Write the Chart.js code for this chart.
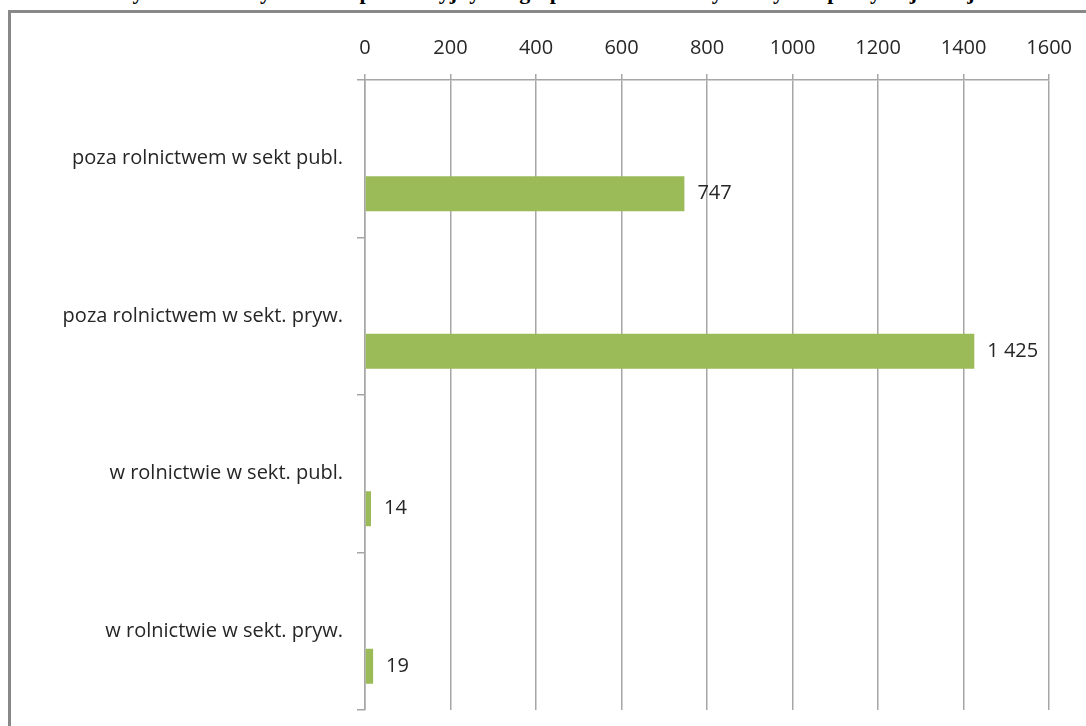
<!DOCTYPE html>
<html>
<head>
<meta charset="utf-8">
<script src="https://cdn.jsdelivr.net/npm/chart.js@4"></script>
<style>
    html, body { margin: 0; padding: 0; background: #fff; overflow: hidden; }
    #title {
        position: absolute; left: 0; top: -19px; width: 1086px; text-align: center;
        font: bold 22px "Liberation Serif", "Times New Roman", serif; line-height: 22px; color: #000;
        white-space: nowrap;
    }
    #frame {
        position: absolute; left: 8px; top: 10px; width: 2000px; height: 2000px;
        border-left: 3px solid #888; border-top: 3px solid #888;
    }
    #wrap { position: absolute; left: 0; top: 0; width: 1086px; height: 726px; }
</style>
</head>
<body>
<div id="title">Wykres 4. Osoby w wieku produkcyjnym z gospodarstw domowych z tytułu pracy najemnej</div>
<div id="frame"></div>
<div id="wrap"><canvas id="chart"></canvas></div>
<script>
// categories, top to bottom
var categories = [
    'poza rolnictwem w sekt publ.',
    'poza rolnictwem w sekt. pryw.',
    'w rolnictwie w sekt. publ.',
    'w rolnictwie w sekt. pryw.'
];
// the two empty series keep the bars in the lower third of each band
var emptySeries1 = [null, null, null, null];
var emptySeries2 = [null, null, null, null];
var values = [747, 1425, 14, 19];
var xTicks = [0, 200, 400, 600, 800, 1000, 1200, 1400, 1600];

var FONT = '"Open Sans", "Noto Sans", sans-serif';

function formatNumber(v){
    return String(v).replace(/\B(?=(\d{3})+(?!\d))/g, ' ');
}

var valueLabels = {
    id: 'valueLabels',
    afterDatasetsDraw: function(chart){
        var ctx = chart.ctx;
        ctx.save();
        ctx.font = '20px ' + FONT;
        ctx.fillStyle = '#262626';
        ctx.textBaseline = 'middle';
        ctx.textAlign = 'left';
        chart.data.datasets.forEach(function(ds, i){
            var meta = chart.getDatasetMeta(i);
            meta.data.forEach(function(el, j){
                var v = ds.data[j];
                if (v === null || v === undefined) return;
                ctx.fillText(formatNumber(v), el.x + 13, el.y);
            });
        });
        ctx.restore();
    }
};

new Chart(document.getElementById('chart'), {
    type: 'bar',
    data: {
        labels: categories,
        datasets: [
            { label: 'a', data: emptySeries1, backgroundColor: '#9bbb59' },
            { label: 'b', data: emptySeries2, backgroundColor: '#9bbb59' },
            { label: 'c', data: values, backgroundColor: '#9bbb59' }
        ]
    },
    options: {
        indexAxis: 'y',
        responsive: true,
        maintainAspectRatio: false,
        animation: false,
        layout: { padding: { left: 0, right: 36, top: 0, bottom: 16 } },
        datasets: { bar: { categoryPercentage: 0.667, barPercentage: 1.0 } },
        plugins: {
            legend: { display: false },
            tooltip: { enabled: false }
        },
        scales: {
            x: {
                position: 'top',
                min: 0,
                max: 1600,
                afterBuildTicks: function(scale){
                    scale.ticks = xTicks.map(function(v){ return { value: v }; });
                },
                afterFit: function(scale){ scale.height = 80; },
                ticks: {
                    color: '#262626',
                    font: { family: FONT, size: 20 },
                    padding: 14,
                    maxRotation: 0,
                    callback: function(v){ return String(v); }
                },
                grid: { color: '#a6a6a6', lineWidth: 1.5, tickLength: 6 },
                border: { color: '#a6a6a6', width: 1.5 }
            },
            y: {
                afterFit: function(scale){
                    scale.width = 365;
                    scale.paddingTop = 0;
                    scale.paddingBottom = 0;
                },
                ticks: {
                    color: '#262626',
                    font: { family: FONT, size: 20 },
                    padding: 14
                },
                grid: { drawOnChartArea: false, color: '#a6a6a6', lineWidth: 1.5, tickLength: 8 },
                border: { color: '#a6a6a6', width: 1.5 }
            }
        }
    },
    plugins: [valueLabels]
});
</script>
</body>
</html>
